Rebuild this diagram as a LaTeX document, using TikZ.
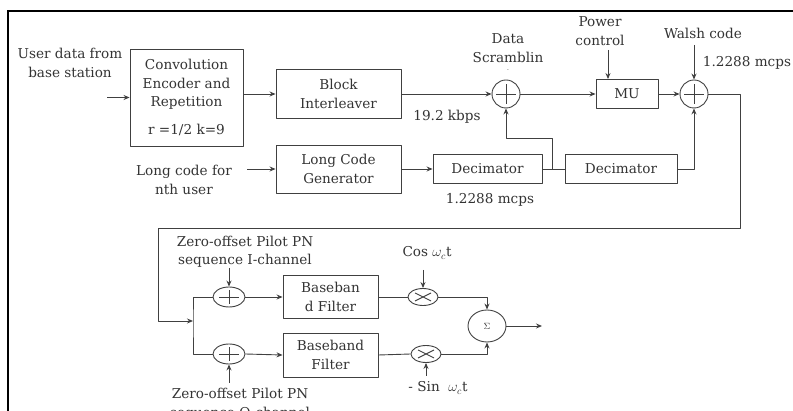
\documentclass[tikz,border=0pt]{standalone}
\usepackage{fontspec}
\setmainfont{DejaVu Serif}
\usetikzlibrary{arrows.meta,shapes.geometric,calc,positioning}

\begin{document}
\begin{tikzpicture}[x=1pt, y=-1pt, line join=round,
  font=\fontsize{13.6}{18.5}\selectfont,
  every node/.style={text=black!80},
  blk/.style={draw=black!75, line width=0.9pt, align=center, inner sep=0pt},
  lbl/.style={align=center, inner sep=0pt},
  wire/.style={draw=black!75, line width=0.9pt},
  sig/.style={wire, -{Stealth[length=6pt,width=5pt]}},
  adder/.style={circle, draw=black!75, line width=0.9pt, minimum size=28pt, inner sep=0pt,
    path picture={\draw[black!75, line width=0.9pt]
      ([xshift=-10pt]path picture bounding box.center) -- ([xshift=10pt]path picture bounding box.center)
      ([yshift=-10pt]path picture bounding box.center) -- ([yshift=10pt]path picture bounding box.center);}},
  padd/.style={ellipse, draw=black!75, line width=0.9pt, minimum width=32pt, minimum height=20pt, inner sep=0pt,
    path picture={\draw[black!75, line width=0.9pt]
      ([xshift=-10pt]path picture bounding box.center) -- ([xshift=10pt]path picture bounding box.center)
      ([yshift=-7pt]path picture bounding box.center) -- ([yshift=7pt]path picture bounding box.center);}},
  pmul/.style={ellipse, draw=black!75, line width=0.9pt, minimum width=30pt, minimum height=17pt, inner sep=0pt,
    path picture={\draw[black!75, line width=0.9pt]
      ([shift={(-8pt,-4pt)}]path picture bounding box.center) -- ([shift={(8pt,4pt)}]path picture bounding box.center)
      ([shift={(-8pt,4pt)}]path picture bounding box.center) -- ([shift={(8pt,-4pt)}]path picture bounding box.center);}},
  psum/.style={ellipse, draw=black!75, line width=0.9pt, minimum width=38pt, minimum height=32pt, inner sep=0pt,
    font=\small}]
\clip (0,0) rectangle (793,411);
\draw[line width=2.5pt] (7,11) -- (793,11);
\draw[line width=2.5pt] (8,11) -- (8,411);

% upper chain
\node[blk, minimum width=113pt, minimum height=97pt] (conv) at (186.5,97.5) {Convolution\\Encoder and\\Repetition\\[9pt]r =1/2 k=9};
\node[blk, minimum width=125pt, minimum height=49pt] (intl) at (338.5,94) {Block\\Interleaver};
\node[adder] (sc) at (506,94) {};
\node[blk, minimum width=62pt, minimum height=29pt] (mu) at (627,94) {MU};
\node[adder] (wa) at (694,94) {};
\node[blk, minimum width=125pt, minimum height=48pt] (lcg) at (338.5,169) {Long Code\\Generator};
\node[blk, minimum width=109pt, minimum height=29pt] (dec1) at (487.5,169) {Decimator};
\node[blk, minimum width=112pt, minimum height=29pt] (dec2) at (621,169) {Decimator};

% I/Q part
\node[padd] (ai) at (229,297) {};
\node[padd] (aq) at (229,354) {};
\node[blk, minimum width=95pt, minimum height=43pt] (bbi) at (330.5,297) {Baseban\\d Filter};
\node[blk, minimum width=95pt, minimum height=44pt] (bbq) at (330.5,355) {Baseband\\Filter};
\node[pmul] (mi) at (423,297) {};
\node[pmul] (mq) at (426,354) {};
\node[psum] (sum) at (487,326) {$\Sigma$};

% labels
\node[lbl] (user) at (70,63) {User data from\\base station};
\node[lbl] (long) at (184,180) {Long code for\\nth user};
\node[lbl] (scr) at (508,48) {Data\\Scramblin};
\node[lbl, font=\tiny] (scrdash) at (508,71) {-};
\node[lbl] (pwr) at (600,31) {Power\\control};
\node[lbl] (wal) at (703,33) {Walsh code};
\node[lbl] (rate1) at (747,63) {1.2288 mcps};
\node[lbl] (kbps) at (447,117) {19.2 kbps};
\node[lbl] (rate2) at (490,200) {1.2288 mcps};
\node[lbl] (pni) at (245,252) {Zero-offset Pilot PN\\sequence I-channel};
\node[lbl] (pnq) at (240,404) {Zero-offset Pilot PN\\sequence Q-channel};
\node[lbl] (cos) at (427,253) {Cos $\omega_c$t};
\node[lbl] (sin) at (438,388) {- Sin\ \ $\omega_c$t};

\coordinate (uin) at (107,97.5);
\coordinate (lin) at (247,169);
\coordinate (pin) at (608,50);
\coordinate (win) at (694,45);
\coordinate (tap) at (552,169);
\coordinate (turn) at (740,228);
\coordinate (jn) at (193,321);
\coordinate (pii) at (229,268);
\coordinate (piq) at (229,383);
\coordinate (cin) at (423,270);
\coordinate (sinn) at (426,376);
\coordinate (out) at (542,326);

\draw[sig] (uin) -- (conv.west);
\draw[sig] (conv.east |- intl) -- (intl.west);
\draw[sig] (intl.east) -- (sc.west);
\draw[sig] (sc.east) -- (mu.west);
\draw[sig] (mu.east) -- (wa.west);
\draw[sig] (pin) -- (pin |- mu.north);
\draw[sig] (win) -- (wa.north);
\draw[sig] (lin) -- (lcg.west);
\draw[sig] (lcg.east) -- (dec1.west);
\draw[wire] (dec1.east) -- (dec2.west);
\draw[sig] (tap) -- ++(0,-31) -| (sc.south);
\draw[sig] (dec2.east) -| (wa.south);
\draw[sig] (wa.east) -| (turn) -| ($(jn)+(-35,0)$) -- (jn);
\draw[wire] (ai.west) -| (jn) |- (aq.west);
\draw[sig] (pii) -- (ai.north);
\draw[sig] (piq) -- (aq.south);
\draw[sig] (ai.east) -- (bbi.west);
\draw[sig] (aq.east) -- (bbq.west);
\draw[wire] (bbi.east) -- (mi.west);
\draw[wire] (bbq.east) -- (mq.west);
\draw[sig] (cin) -- (mi.north);
\draw[sig] (sinn) -- (mq.south);
\draw[sig] (mi.east) -| (sum.north);
\draw[sig] (mq.east) -| (sum.south);
\draw[sig] (sum.east) -- (out);
\end{tikzpicture}
\end{document}
